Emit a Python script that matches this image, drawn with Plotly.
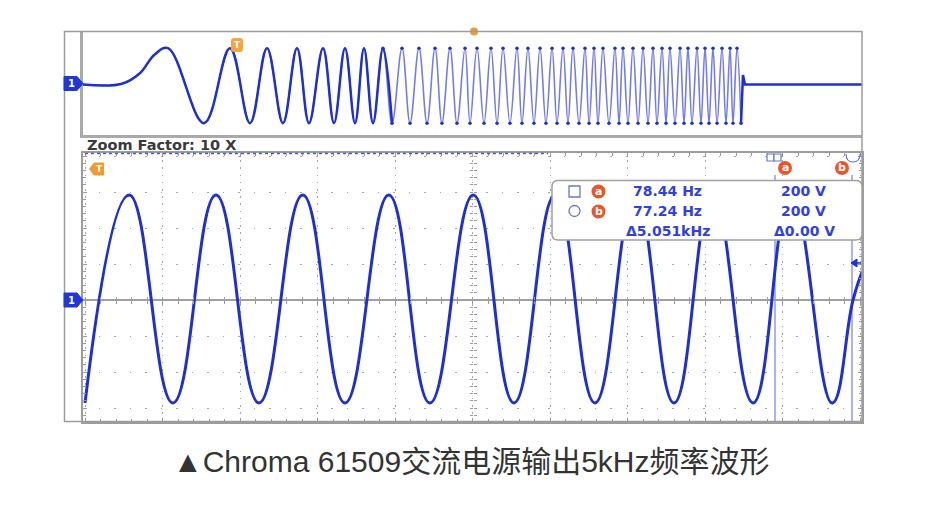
import plotly.graph_objects as go

# ---------------- data ----------------
# Lower (zoomed, 10X) channel-1 trace: time in divisions, voltage in divisions
zoom_t = [0.00, 0.57, 1.135, 1.69, 2.245, 2.81, 3.355, 3.92, 4.45, 5.01,
          5.535, 6.065, 6.58, 7.10, 7.60, 8.10, 8.62, 9.11, 9.64, 9.91, 10.03]
zoom_v = [-2.86, 2.92, -2.86, 2.92, -2.86, 2.92, -2.86, 2.92, -2.86, 2.92,
          -2.86, 2.92, -2.86, 2.92, -2.86, 2.92, -2.86, 2.92, -2.86, 0.0, 0.8]

# Upper overview trace (sweep): time in divisions, normalised amplitude
top_lead_t = [0.0, 0.50, 0.73, 0.92]
top_lead_v = [0.0, 0.02, 0.30, 0.80]
top_peak_t = [1.091, 1.887, 2.362, 2.747, 3.081, 3.363, 3.607, 3.851, 4.095, 4.313,
              4.519, 4.711, 4.904, 5.058, 5.237, 5.392, 5.571, 5.712, 5.867, 6.021,
              6.162, 6.290, 6.444, 6.560, 6.675, 6.829, 6.932, 7.060, 7.189, 7.317,
              7.433, 7.535, 7.664, 7.766, 7.882, 7.985, 8.087, 8.203, 8.306, 8.395]
top_trough_t = [1.553, 2.144, 2.567, 2.901, 3.222, 3.492, 3.723, 3.967, 4.198, 4.416,
                4.608, 4.801, 4.968, 5.148, 5.315, 5.481, 5.635, 5.789, 5.943, 6.085,
                6.226, 6.367, 6.496, 6.611, 6.752, 6.881, 6.996, 7.125, 7.253, 7.368,
                7.484, 7.599, 7.715, 7.818, 7.933, 8.036, 8.139, 8.254, 8.344, 8.447]
TOP_PEAK_V = 0.97
TOP_TROUGH_V = -1.03
top_tail_t = [8.472, 8.498, 10.0]
top_tail_v = [0.25, 0.0, 0.0]

# Cursor readouts
cursor_a = {"label": "a", "freq": "78.44 Hz", "volt": "200 V"}
cursor_b = {"label": "b", "freq": "77.24 Hz", "volt": "200 V"}
delta_freq = "\u03945.051kHz"
delta_volt = "\u03940.00 V"
zoom_text = "Zoom Factor: 10 X"
caption = "\u25b2Chroma 61509交流电源输出5kHz频率波形"

# ---------------- build sequences ----------------
mid_t, mid_v = [], []
for p, q in zip(top_peak_t, top_trough_t):
    mid_t += [p, q]
    mid_v += [TOP_PEAK_V, TOP_TROUGH_V]
top_t = top_lead_t + mid_t
top_v = top_lead_v + mid_v
n_dark = len(top_lead_t) + 2 * 8
dense_t = [t for t in mid_t if t > 3.8]
dense_v = [v for t, v in zip(mid_t, mid_v) if t > 3.8]

# ---------------- layout helpers ----------------
W, H = 948, 506
def fx(p):
    return p / W
def fy(p):
    return 1 - p / H

BLUE = "#1f2fd6"
LIGHT = "#737cec"
GRAY = "#9c9c9c"
ORANGE = "#f09a32"
RED = "#e8562a"
TXT = "#3140e0"

def rrect(x0, y0, x1, y1, r):
    return (f"M {fx(x0+r)},{fy(y0)} L {fx(x1-r)},{fy(y0)} Q {fx(x1)},{fy(y0)} {fx(x1)},{fy(y0+r)} "
            f"L {fx(x1)},{fy(y1-r)} Q {fx(x1)},{fy(y1)} {fx(x1-r)},{fy(y1)} "
            f"L {fx(x0+r)},{fy(y1)} Q {fx(x0)},{fy(y1)} {fx(x0)},{fy(y1-r)} "
            f"L {fx(x0)},{fy(y0+r)} Q {fx(x0)},{fy(y0)} {fx(x0+r)},{fy(y0)} Z")

def poly(pts):
    return "M " + " L ".join(f"{fx(a)},{fy(b)}" for a, b in pts) + " Z"

fig = go.Figure()

# lower trace
fig.add_trace(go.Scatter(x=zoom_t, y=zoom_v, mode="lines", xaxis="x", yaxis="y",
                         line=dict(color=BLUE, width=3, shape="spline", smoothing=1.3),
                         hoverinfo="skip", showlegend=False))
# upper trace: light full, dark early part, dark extremes, dark tail
fig.add_trace(go.Scatter(x=top_t, y=top_v, mode="lines", xaxis="x2", yaxis="y2",
                         line=dict(color=LIGHT, width=1.6, shape="spline", smoothing=1.1),
                         hoverinfo="skip", showlegend=False))
fig.add_trace(go.Scatter(x=top_t[:n_dark], y=top_v[:n_dark], mode="lines", xaxis="x2", yaxis="y2",
                         line=dict(color=BLUE, width=2.5, shape="spline", smoothing=1.1),
                         hoverinfo="skip", showlegend=False))
fig.add_trace(go.Scatter(x=dense_t, y=dense_v, mode="markers", xaxis="x2", yaxis="y2",
                         marker=dict(color=BLUE, size=3.5),
                         hoverinfo="skip", showlegend=False))
fig.add_trace(go.Scatter(x=[top_trough_t[-1]] + top_tail_t, y=[TOP_TROUGH_V] + top_tail_v,
                         mode="lines", xaxis="x2", yaxis="y2",
                         line=dict(color=BLUE, width=2.5),
                         hoverinfo="skip", showlegend=False))
# dummy traces for centre tick axes
for xa, ya in [("x3", "y"), ("x4", "y"), ("x", "y3"), ("x", "y4")]:
    fig.add_trace(go.Scatter(x=[None], y=[None], xaxis=xa, yaxis=ya, showlegend=False, hoverinfo="skip"))

xr = [(83 - 85) / 77.5, (862 - 85) / 77.5]
yr = [(300 - 421.5) / 36, (300 - 153) / 36]

minor_in = dict(dtick=0.2, tick0=0, ticklen=3, tickcolor=GRAY, ticks="inside", showgrid=False)
minor_out = dict(dtick=0.2, tick0=0, ticks="outside", ticklen=3, tickcolor=GRAY, showgrid=False)
centre = dict(showgrid=False, zeroline=False, showticklabels=False, showline=False,
              dtick=1, tick0=0, ticks="outside", ticklen=3, tickcolor=GRAY, minor=minor_out)

fig.update_layout(
    width=W, height=H, margin=dict(l=0, r=0, t=0, b=0),
    paper_bgcolor="white", plot_bgcolor="white", hovermode=False,
    xaxis=dict(domain=[fx(83), fx(862)], range=xr, anchor="y", showticklabels=False,
               showgrid=True, gridcolor="#a8a8a8", griddash="1.5px,5.7px", gridwidth=1,
               dtick=1, tick0=0, ticks="inside", ticklen=4, tickcolor=GRAY, minor=minor_in,
               zeroline=False, showline=True, linecolor=GRAY, linewidth=1.5, mirror="ticks"),
    yaxis=dict(domain=[fy(421.5), fy(153)], range=yr, anchor="x", showticklabels=False,
               showgrid=True, gridcolor="#a8a8a8", griddash="1.5px,14px", gridwidth=1,
               dtick=1, tick0=0, ticks="inside", ticklen=4, tickcolor=GRAY, minor=minor_in,
               zeroline=True, zerolinecolor="#a0a0a0", zerolinewidth=1.5,
               showline=True, linecolor=GRAY, linewidth=1.5, mirror="ticks"),
    xaxis3=dict(overlaying="x", anchor="free", position=fy(300), range=xr, side="bottom", **centre),
    xaxis4=dict(overlaying="x", anchor="free", position=fy(300), range=xr, side="top", **centre),
    yaxis3=dict(overlaying="y", anchor="free", position=fx(85 + 5 * 77.5), range=yr, side="left", **centre),
    yaxis4=dict(overlaying="y", anchor="free", position=fx(85 + 5 * 77.5), range=yr, side="right", **centre),
    xaxis2=dict(domain=[fx(83), fx(862)], range=[0, 10], anchor="y2", showticklabels=False,
                showgrid=False, zeroline=False, ticks="", showline=True, linecolor="#aaaaaa", linewidth=2.5),
    yaxis2=dict(domain=[fy(135), fy(31.5)], range=[(84.5 - 135) / 37.5, (84.5 - 31.5) / 37.5],
                anchor="x2", showticklabels=False, showgrid=False, zeroline=False, ticks="",
                showline=True, linecolor="#aaaaaa", linewidth=2.5),
)

shapes = []
shapes.append(dict(type="circle", xref="paper", yref="paper", x0=fx(470), x1=fx(478), y0=fy(27.5), y1=fy(35.5),
                   fillcolor=ORANGE, line=dict(width=0), layer="above"))
# outer frame
shapes.append(dict(type="rect", xref="paper", yref="paper", x0=fx(64.5), x1=fx(862), y0=fy(421.5), y1=fy(31.5),
                   line=dict(color=GRAY, width=1.5), fillcolor="rgba(0,0,0,0)", layer="above"))
# dashed blue zoom strip at lower panel top
shapes.append(dict(type="line", xref="paper", yref="paper", x0=fx(85), x1=fx(548), y0=fy(153.5), y1=fy(153.5),
                   line=dict(color="#4a58e0", width=1.5, dash="3px,3px"), layer="above"))
# cursor lines
for cx in (775, 852):
    shapes.append(dict(type="line", xref="paper", yref="paper", x0=fx(cx), x1=fx(cx), y0=fy(175), y1=fy(421.5),
                       line=dict(color="#aab1f4", width=2), layer="below"))
# measurement box
shapes.append(dict(type="path", xref="paper", yref="paper", path=rrect(552, 180.5, 862, 240, 6),
                   fillcolor="white", line=dict(color="#a0a0a0", width=1.5), layer="above"))
shapes.append(dict(type="rect", xref="paper", yref="paper", x0=fx(569), x1=fx(580), y0=fy(197), y1=fy(186),
                   line=dict(color="#6674dc", width=1.3), fillcolor="white", layer="above"))
shapes.append(dict(type="circle", xref="paper", yref="paper", x0=fx(569), x1=fx(580), y0=fy(216.5), y1=fy(205.5),
                   line=dict(color="#6674dc", width=1.3), fillcolor="white", layer="above"))
for cy in (191.5, 211.5):
    shapes.append(dict(type="circle", xref="paper", yref="paper", x0=fx(591.5), x1=fx(605.5), y0=fy(cy + 7), y1=fy(cy - 7),
                       line=dict(width=0), fillcolor=RED, layer="above"))
# cursor handles
for cx in (785, 842):
    shapes.append(dict(type="circle", xref="paper", yref="paper", x0=fx(cx - 7), x1=fx(cx + 7), y0=fy(175), y1=fy(161),
                       line=dict(width=0), fillcolor=RED, layer="above"))
shapes.append(dict(type="rect", xref="paper", yref="paper", x0=fx(767), x1=fx(774), y0=fy(161), y1=fy(154),
                   line=dict(color="#6674dc", width=1.2), fillcolor="white", layer="above"))
shapes.append(dict(type="rect", xref="paper", yref="paper", x0=fx(774), x1=fx(781), y0=fy(161), y1=fy(154),
                   line=dict(color="#6674dc", width=1.2), fillcolor="white", layer="above"))
shapes.append(dict(type="path", xref="paper", yref="paper",
                   path=f"M {fx(846)},{fy(154)} Q {fx(846)},{fy(162)} {fx(853)},{fy(162)} Q {fx(860)},{fy(162)} {fx(860)},{fy(154)}",
                   line=dict(color="#6674dc", width=1.2), layer="above"))
# trigger level arrow at right
shapes.append(dict(type="path", xref="paper", yref="paper",
                   path=poly([(851, 263), (857, 259), (857, 267)]), fillcolor=BLUE, line=dict(color=BLUE, width=1), layer="above"))
shapes.append(dict(type="line", xref="paper", yref="paper", x0=fx(856), x1=fx(861), y0=fy(263), y1=fy(263),
                   line=dict(color=BLUE, width=1.5), layer="above"))
# channel 1 markers
for cy in (300, 83.5):
    shapes.append(dict(type="path", xref="paper", yref="paper",
                       path=poly([(64, cy - 7), (77, cy - 7), (83, cy), (77, cy + 7), (64, cy + 7)]),
                       fillcolor="#2036d8", line=dict(color="#2036d8", width=1), layer="above"))
# trigger markers
shapes.append(dict(type="path", xref="paper", yref="paper", path=rrect(231, 38, 243, 52, 3),
                   fillcolor="#f3a63c", line=dict(width=0), layer="above"))
shapes.append(dict(type="path", xref="paper", yref="paper",
                   path=poly([(89, 169), (94, 162.5), (104, 162.5), (104, 175.5), (94, 175.5)]),
                   fillcolor=ORANGE, line=dict(width=0), layer="above"))
fig.update_layout(shapes=shapes)

ann = []
def text(x, y, s, size, color, anchor="center", bold=True, family="DejaVu Sans"):
    ann.append(dict(x=fx(x), y=fy(y), xref="paper", yref="paper", text=f"<b>{s}</b>" if bold else s,
                    showarrow=False, xanchor=anchor, yanchor="middle",
                    font=dict(size=size, color=color, family=family)))

text(85, 145, zoom_text, 14.5, "#3a3a3a", anchor="left")
text(667.5, 191.5, cursor_a["freq"], 14, TXT)
text(803, 191.5, cursor_a["volt"], 14, TXT)
text(667.5, 211.5, cursor_b["freq"], 14, TXT)
text(803, 211.5, cursor_b["volt"], 14, TXT)
text(667.5, 231, delta_freq, 14, TXT)
text(804, 231, delta_volt, 14, TXT)
text(598.5, 191, cursor_a["label"], 11, "white")
text(598.5, 211, cursor_b["label"], 11, "white")
text(785, 167.5, cursor_a["label"], 11, "white")
text(842, 167.5, cursor_b["label"], 11, "white")
text(71, 300, "1", 10, "white")
text(71, 83.5, "1", 10, "white")
text(237, 45, "T", 9, "white")
text(99, 169, "T", 9, "white")
text(471, 461, caption, 30, "#333333", bold=False, family="Liberation Sans, Noto Sans CJK SC")
fig.update_layout(annotations=ann)

fig.write_html("out.html", config={"displayModeBar": False},
               post_script="document.body.style.margin='0';document.body.style.overflow='hidden';")
